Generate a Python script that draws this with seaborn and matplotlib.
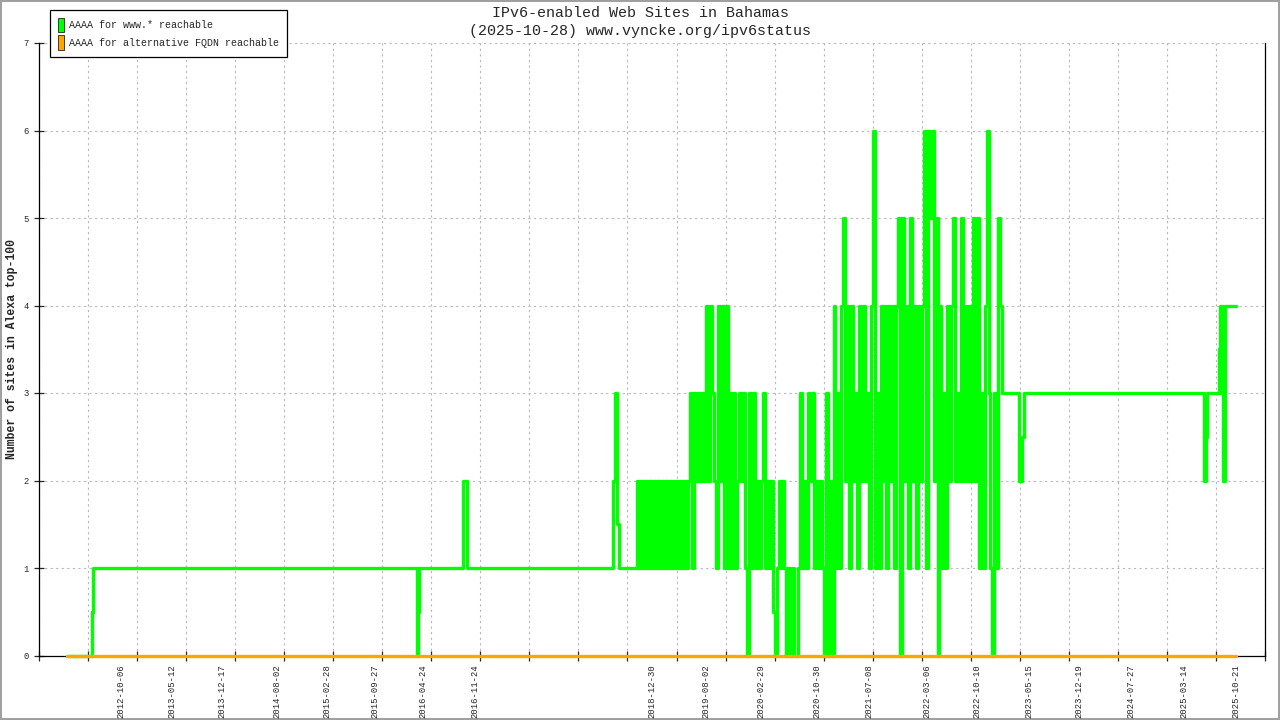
import matplotlib
matplotlib.use("Agg")
import matplotlib.pyplot as plt
from matplotlib.patches import Patch
import pandas as pd
import seaborn as sns

TITLE_LINES = ["IPv6-enabled Web Sites in Bahamas", "(2025-10-28) www.vyncke.org/ipv6status"]
Y_LABEL = "Number of sites in Alexa top-100"
SERIES_NAMES = ["AAAA for www.* reachable", "AAAA for alternative FQDN reachable"]
SERIES_COLORS = ["#00ff00", "#ffa500"]

# date labels sit on the sample index they belong to
label_pos = [167, 271, 373, 485, 587, 685, 784, 889, 1249, 1360,
             1473, 1587, 1693, 1810, 1912, 2019, 2120, 2226, 2334, 2440]
label_dates = ["2012-10-06", "2013-05-12", "2013-12-17", "2014-08-02", "2015-02-28",
               "2015-09-27", "2016-04-24", "2016-11-24", "2018-12-30", "2019-08-02",
               "2020-02-29", "2020-10-30", "2021-07-08", "2022-03-06", "2022-10-10",
               "2023-05-15", "2023-12-19", "2024-07-27", "2025-03-14", "2025-10-21"]

# www.* reachable, quiet years: value holds from each change point to the next
www_head_x = [57, 108, 111, 770, 774, 776, 864, 872, 1170, 1175, 1179, 1182]
www_head_y = [0, 0.5, 1, 0, 0.5, 1, 2, 1, 2, 3, 1.5, 1]

# busy period 2018-2023, one value every 4 samples starting at sample 1216
busy_start = 1216
busy_values = [
    1, 2, 1, 2, 1, 2, 1, 2, 1, 2,
    1, 2, 1, 2, 1, 2, 1, 2, 1, 2,
    1, 2, 1, 2, 1, 2, 1, 2, 3, 1,
    3, 2, 3, 2, 3, 2, 4, 2, 4, 3,
    2, 1, 4, 2, 4, 1, 4, 1, 3, 1,
    3, 1, 2, 3, 2, 3, 1, 0, 3, 1,
    3, 1, 2, 1, 2, 3, 1, 2, 1, 2,
    0.5, 0, 1, 2, 1, 2, 1, 0, 1, 0,
    1, 0, 0, 1, 3, 1, 2, 1, 3, 2,
    3, 1, 2, 1, 2, 1, 0, 3, 0, 2,
    0, 4, 1, 3, 1, 4, 5, 2, 4, 1,
    4, 2, 3, 1, 4, 2, 4, 2, 3, 1,
    4, 6, 1, 3, 1, 4, 2, 4, 1, 4,
    2, 4, 1, 4, 5, 0, 5, 2, 4, 1,
    5, 2, 4, 1, 4, 2, 4, 6, 1, 6,
    5, 6, 2, 5, 0, 4, 1, 3, 1, 4,
    2, 4, 5, 2, 3, 2, 5, 2, 4, 2,
    4, 2, 5, 2, 5, 1, 3, 1, 4, 6,
    3, 1, 0, 3, 1, 5, 4,
]

# www.* reachable, 2023 onwards
www_tail_x = [1964, 1998, 2004, 2008, 2375, 2379, 2381, 2405, 2407, 2409, 2411, 2413, 2419]
www_tail_y = [3, 2, 2.5, 3, 2, 2.5, 3, 3.5, 4, 3, 4, 2, 4]
last_sample = 2441

# alternative FQDN reachable
alt_x = [57, 2441]
alt_y = [0, 0]


def main():
    sns.set_style("ticks")
    plt.rcParams["font.family"] = ["Liberation Mono", "DejaVu Sans Mono"]

    busy_x = [busy_start + 4 * i for i in range(len(busy_values))]
    www = pd.DataFrame({
        "sample": www_head_x + busy_x + www_tail_x + [last_sample],
        "sites": www_head_y + busy_values + www_tail_y + [www_tail_y[-1]],
    })
    alt = pd.DataFrame({"sample": alt_x, "sites": alt_y})

    fig = plt.figure(figsize=(12.8, 7.2), dpi=100, edgecolor="#a0a0a0", linewidth=1.5)
    ax = fig.add_axes([38.8 / 1280, 1 - 655.5 / 720, 1226.4 / 1280, 612.5 / 720])

    sns.lineplot(data=www, x="sample", y="sites", ax=ax, color=SERIES_COLORS[0],
                 drawstyle="steps-post", lw=2.4, estimator=None, sort=False,
                 clip_on=False, zorder=3)
    sns.lineplot(data=alt, x="sample", y="sites", ax=ax, color=SERIES_COLORS[1],
                 drawstyle="steps-post", lw=2.4, estimator=None, sort=False,
                 clip_on=False, zorder=4)

    ax.set_xlim(0, 2500)
    ax.set_ylim(0, 7)
    ax.set_xticks(range(0, 2501, 100))
    ax.set_xticklabels([])
    ax.set_xticks(label_pos, minor=True)
    ax.set_xticklabels(label_dates, minor=True, rotation=90, fontsize=6.4)
    ax.set_yticks(range(0, 8))
    ax.set_yticklabels([str(v) for v in range(0, 8)], fontsize=6.4)
    ax.tick_params(axis="x", which="major", direction="inout", length=6.5, width=0.9)
    ax.tick_params(axis="x", which="minor", length=0, pad=6.5)
    ax.tick_params(axis="y", direction="inout", length=6.5, width=0.9, pad=4)
    ax.grid(True, which="major", color="#b8b8b8", linestyle=(0, (2, 3)), lw=0.8)
    ax.set_xlabel("")
    ax.set_ylabel("")
    ax.spines["top"].set_visible(False)
    for side in ["left", "right", "bottom"]:
        ax.spines[side].set_color("black")
        ax.spines[side].set_linewidth(0.9)

    fig.text(0.5, 1 - 13 / 720, TITLE_LINES[0], ha="center", va="center", fontsize=10.8)
    fig.text(0.5, 1 - 31 / 720, TITLE_LINES[1], ha="center", va="center", fontsize=10.8)
    fig.text(12 / 1280, 1 - 349 / 720, Y_LABEL, rotation=90, ha="center", va="center",
             fontsize=8.3, fontweight="bold")

    handles = [Patch(facecolor=c, edgecolor="black", lw=0.5) for c in SERIES_COLORS]
    leg = ax.legend(handles, SERIES_NAMES, loc="upper left",
                    bbox_to_anchor=(50 / 1280, 1 - 10 / 720), bbox_transform=fig.transFigure,
                    borderaxespad=0, fontsize=7.2, handlelength=0.6, handleheight=1.85,
                    handletextpad=0.55, labelspacing=0.35, borderpad=0.75,
                    fancybox=False, framealpha=1, edgecolor="black")
    leg.get_frame().set_linewidth(0.9)
    leg.set_zorder(10)

    fig.savefig("out.png", dpi=100, edgecolor=fig.get_edgecolor())


main()
